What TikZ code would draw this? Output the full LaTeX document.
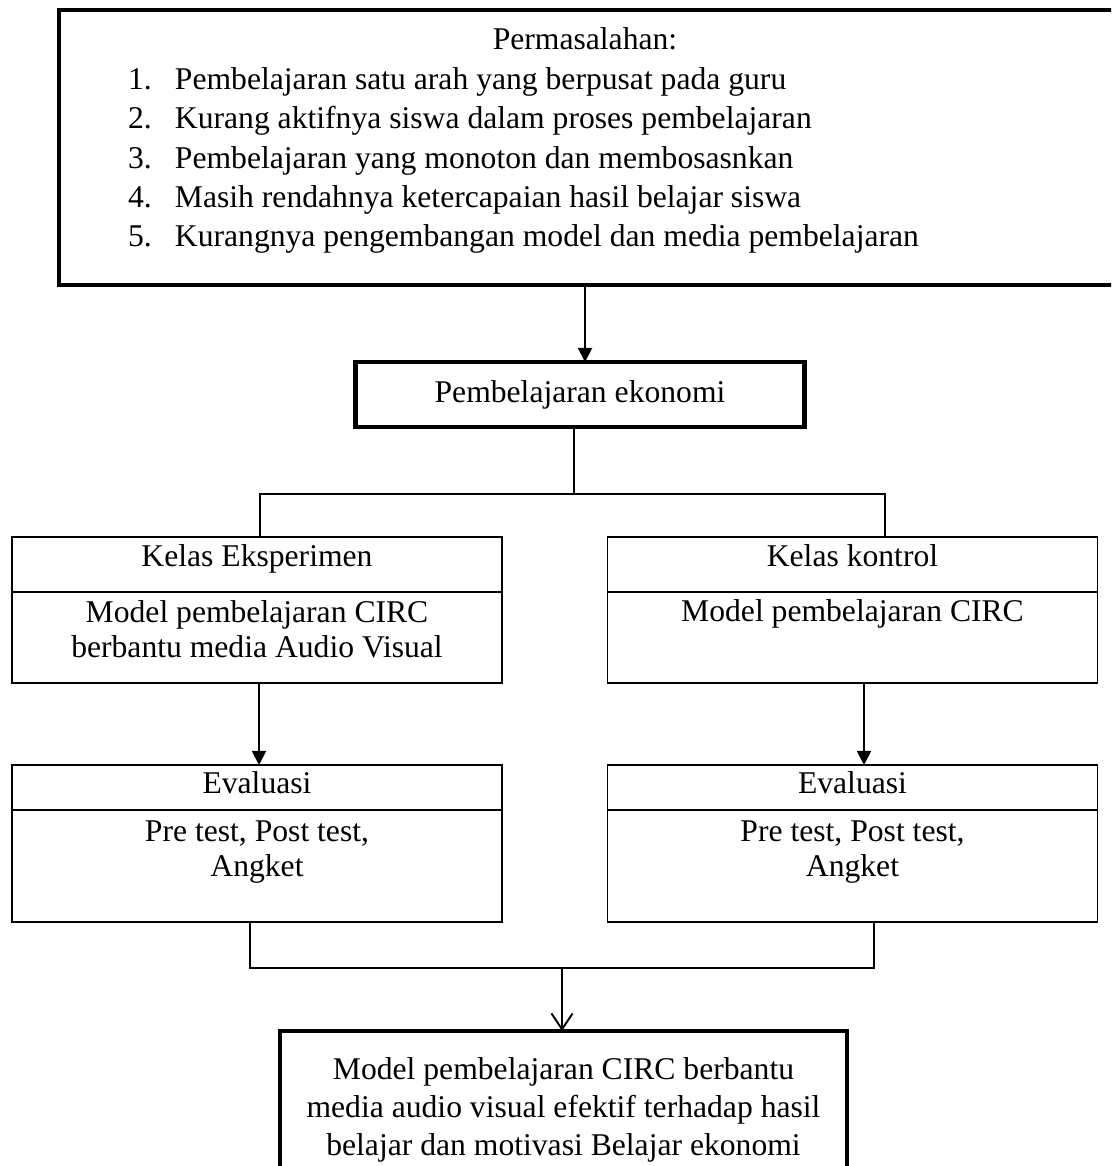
\documentclass[tikz,border=0pt]{standalone}
\usepackage{fontspec}
\setmainfont{Liberation Serif}
\usetikzlibrary{arrows.meta}

\begin{document}
\begin{tikzpicture}[>={Triangle[length=8pt,width=8pt]}, line width=1.1pt,
        every node/.style={font=\fontsize{18}{22.4}\selectfont, inner sep=0pt, outer sep=0pt},
        kotak/.style={draw, minimum width=9.8cm},
        teks/.style={anchor=base, align=center},
        isi/.style={teks, font=\fontsize{18}{20.4}\selectfont}]
        \useasboundingbox (0,0) rectangle (22.22,23.32);
        \clip (0,0) rectangle (22.22,23.32);
        % permasalahan
        \node[draw, line width=2.8pt, minimum width=21.18cm, minimum height=5.5cm] (masalah) at (11.77,20.37) {};
        \node[teks] (judul) at (11.7,22.32) {Permasalahan:};
        \node[anchor=base west, align=left] (daftar) at (2.56,18.38) {\makebox[0.94cm][l]{1.}Pembelajaran satu arah yang berpusat pada guru\\
            \makebox[0.94cm][l]{2.}Kurang aktifnya siswa dalam proses pembelajaran\\
            \makebox[0.94cm][l]{3.}Pembelajaran yang monoton dan membosasnkan\\
            \makebox[0.94cm][l]{4.}Masih rendahnya ketercapaian hasil belajar siswa\\
            \makebox[0.94cm][l]{5.}Kurangnya pengembangan model dan media pembelajaran};
        % pembelajaran ekonomi
        \node[draw, line width=2.4pt, minimum width=8.98cm, minimum height=1.3cm] (ekonomi) at (11.6,15.43) {Pembelajaran ekonomi};
        \draw[->] ([xshift=1mm]ekonomi.north |- masalah.south) -- ([xshift=1mm]ekonomi.north);
        % kelas eksperimen dan kelas kontrol
        \node[kotak, minimum height=1.1cm] (eksp) at (5.14,12.03) {};
        \node[kotak, minimum height=1.82cm] (eksp-isi) at (5.14,10.57) {};
        \node[kotak, minimum height=1.1cm] (kontrol) at (17.05,12.03) {};
        \node[kotak, minimum height=1.82cm] (kontrol-isi) at (17.05,10.57) {};
        \node[teks] (eksp-t) at (5.14,11.98) {Kelas Eksperimen};
        \node[isi] (eksp-isi-t) at (5.14,10.16) {Model pembelajaran CIRC\\berbantu media Audio Visual};
        \node[teks] (kontrol-t) at (17.05,11.98) {Kelas kontrol};
        \node[isi] (kontrol-isi-t) at (17.05,10.88) {Model pembelajaran CIRC};
        % cabang
        \coordinate (cabang) at (11.48,13.44);
        \draw (ekonomi.south -| cabang) -- (cabang);
        \draw ([xshift=0.06cm]eksp.north) |- (cabang) -| ([xshift=0.65cm]kontrol.north);
        % evaluasi
        \node[kotak, minimum height=0.9cm] (eval-kiri) at (5.14,7.57) {};
        \node[kotak, minimum height=2.24cm] (eval-kiri-isi) at (5.14,6.0) {};
        \node[kotak, minimum height=0.9cm] (eval-kanan) at (17.05,7.57) {};
        \node[kotak, minimum height=2.24cm] (eval-kanan-isi) at (17.05,6.0) {};
        \node[teks] (eval-kiri-t) at (5.14,7.44) {Evaluasi};
        \node[isi] (eval-kiri-isi-t) at (5.14,5.78) {Pre test, Post test,\\Angket};
        \node[teks] (eval-kanan-t) at (17.05,7.44) {Evaluasi};
        \node[isi] (eval-kanan-isi-t) at (17.05,5.78) {Pre test, Post test,\\Angket};
        \draw[->] ([xshift=0.04cm]eksp-isi.south) -- ([xshift=0.04cm]eval-kiri.north);
        \draw[->] ([xshift=0.23cm]kontrol-isi.south) -- ([xshift=0.23cm]eval-kanan.north);
        % hasil
        \coordinate (gabung) at (11.24,3.96);
        \draw ([xshift=-0.14cm]eval-kiri-isi.south) |- (gabung) -| ([xshift=0.43cm]eval-kanan-isi.south);
        \node[draw, line width=2.8pt, minimum width=11.34cm, minimum height=3.2cm, anchor=north] (hasil) at (11.27,2.7) {};
        \node[teks, font=\fontsize{18}{21.5}\selectfont] (hasil-t) at (11.27,0.22) {Model pembelajaran CIRC berbantu\\media audio visual efektif terhadap hasil\\belajar dan motivasi Belajar ekonomi};
        \draw[-{Straight Barb[length=9pt,width=12pt]}] (gabung) -- (gabung |- hasil.north);
    \end{tikzpicture}
\end{document}
